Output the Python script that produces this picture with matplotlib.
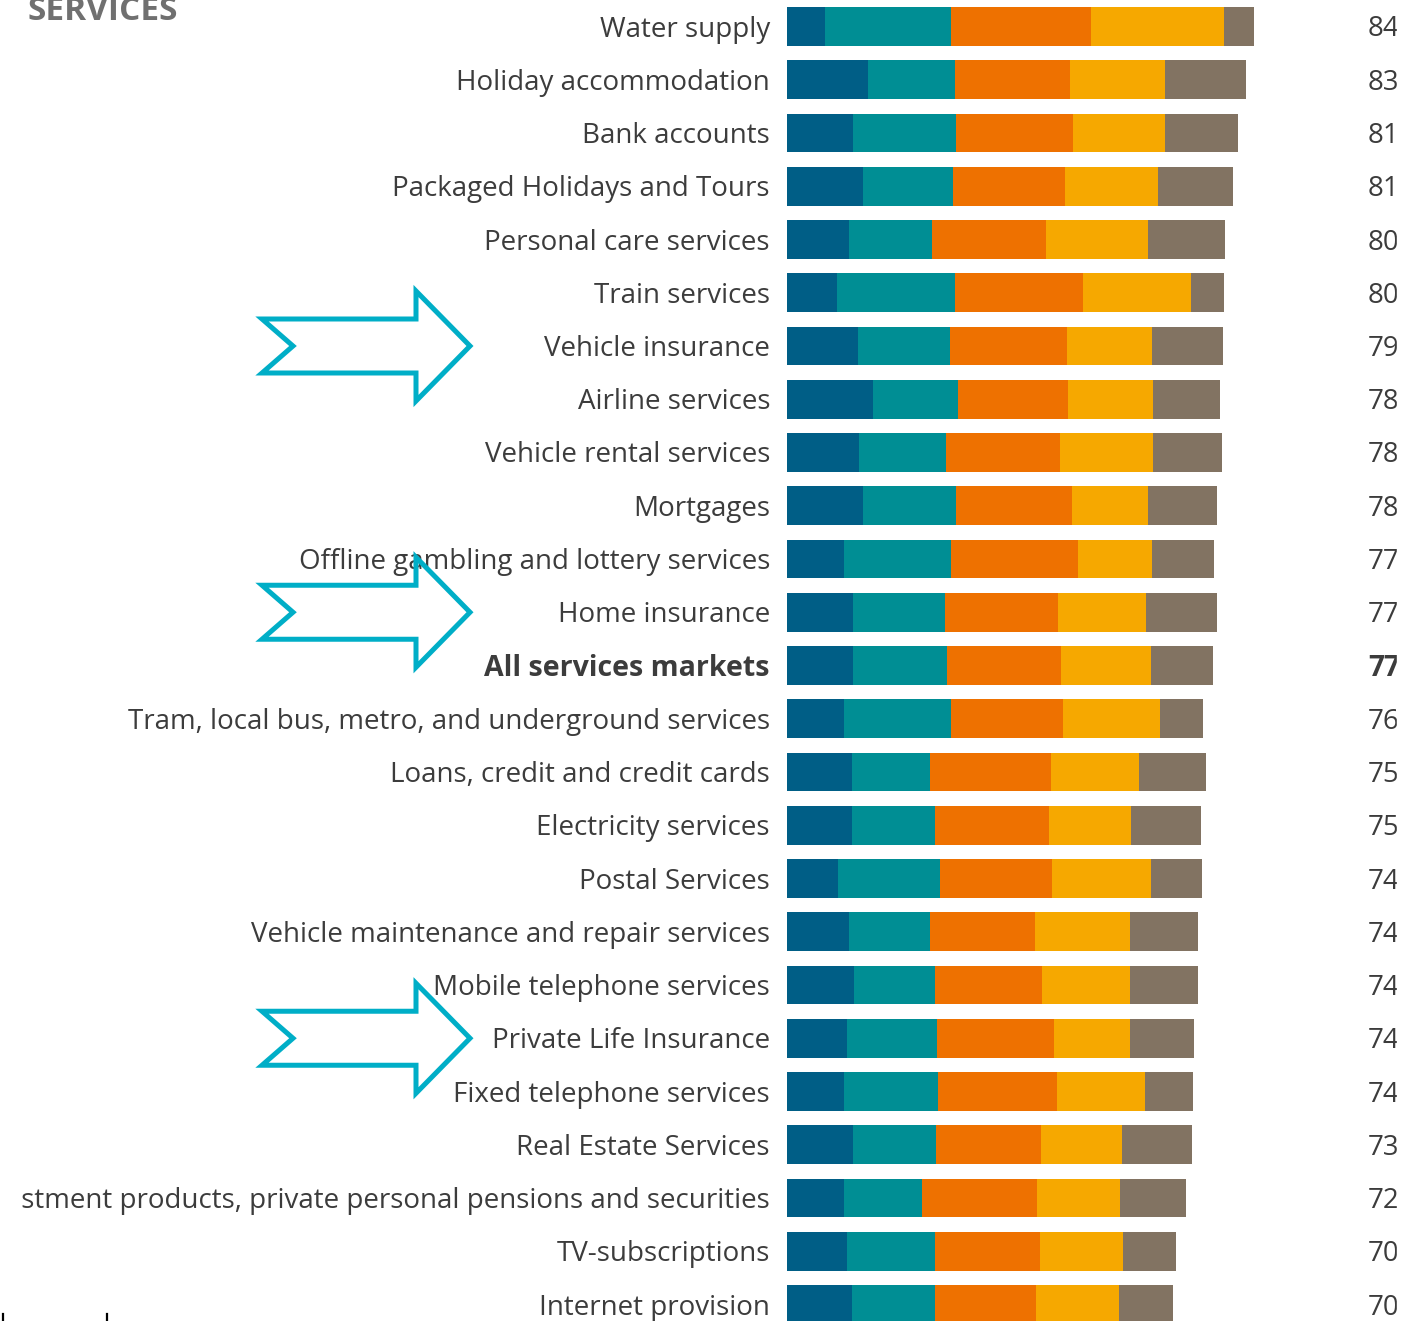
import matplotlib
matplotlib.use("Agg")
import matplotlib.pyplot as plt
import matplotlib.transforms as mtransforms
from matplotlib.patches import Polygon, Rectangle
from matplotlib.lines import Line2D

# services markets, top to bottom
markets = [
    "Water supply", "Holiday accommodation", "Bank accounts",
    "Packaged Holidays and Tours", "Personal care services", "Train services",
    "Vehicle insurance", "Airline services", "Vehicle rental services",
    "Mortgages", "Offline gambling and lottery services", "Home insurance",
    "All services markets",
    "Tram, local bus, metro, and underground services",
    "Loans, credit and credit cards", "Electricity services",
    "Postal Services", "Vehicle maintenance and repair services",
    "Mobile telephone services", "Private Life Insurance",
    "Fixed telephone services", "Real Estate Services",
    "Investment products, private personal pensions and securities",
    "TV-subscriptions", "Internet provision",
]

# five stacked components of the index (left to right)
comp1 = [6.7, 14.5, 11.8, 13.6, 11.2, 9.0, 12.8, 15.4, 13.0, 13.6, 10.3, 11.8, 11.8,
         10.3, 11.6, 11.6, 9.2, 11.2, 12.1, 10.7, 10.3, 11.8, 10.3, 10.7, 11.6]
comp2 = [22.8, 15.7, 18.6, 16.3, 15.0, 21.3, 16.6, 15.4, 15.7, 16.8, 19.2, 16.6, 17.0,
         19.2, 14.1, 15.0, 18.3, 14.6, 14.6, 16.3, 17.0, 15.0, 14.1, 15.9, 15.0]
comp3 = [25.3, 20.8, 21.2, 20.3, 20.6, 23.1, 21.2, 19.9, 20.6, 21.0, 23.1, 20.6, 20.6,
         20.3, 21.9, 20.6, 20.3, 19.0, 19.3, 21.2, 21.5, 19.0, 20.8, 19.0, 18.3]
comp4 = [24.2, 17.2, 16.6, 16.8, 18.3, 19.5, 15.4, 15.4, 16.8, 13.7, 13.4, 15.9, 16.3,
         17.5, 15.9, 15.0, 17.9, 17.2, 15.9, 13.7, 15.9, 14.6, 15.0, 15.0, 15.0]
comp5 = [5.4, 14.8, 13.2, 13.6, 14.1, 6.1, 12.8, 12.1, 12.5, 12.5, 11.2, 12.8, 11.2,
         7.8, 12.1, 12.5, 9.2, 12.3, 12.3, 11.6, 8.7, 12.7, 11.9, 9.6, 9.8]

scores = [84, 83, 81, 81, 80, 80, 79, 78, 78, 78, 77, 77, 77,
          76, 75, 75, 74, 74, 74, 74, 74, 73, 72, 70, 70]

highlighted = ["Vehicle insurance", "Home insurance", "Private Life Insurance"]

colors = ["#005e86", "#008e94", "#ee7100", "#f6a800", "#827362"]
W, H = 1406, 1321

plt.rcParams["font.family"] = ["Open Sans", "DejaVu Sans"]
fig = plt.figure(figsize=(W / 100, H / 100), dpi=100)

# axes placed so one unit is ~5.53 px and rows are ~53.25 px apart
x0 = 787.5
ax = fig.add_axes([x0 / W, 0, (W - x0) / W, 1])
ax.set_xlim(0, (W - x0) / 5.53)
ax.set_ylim((H - 26.5) / 53.25, -26.5 / 53.25)
ax.axis("off")

ypos = list(range(len(markets)))
left = [0] * len(markets)
for vals, c in zip([comp1, comp2, comp3, comp4, comp5], colors):
    ax.barh(ypos, vals, left=left, height=0.73, color=c, linewidth=0)
    left = [l + v for l, v in zip(left, vals)]

trans = mtransforms.blended_transform_factory(fig.transFigure, ax.transData)
trans = mtransforms.offset_copy(trans, fig=fig, y=-3, units="dots")
for y, name, s in zip(ypos, markets, scores):
    bold = name == "All services markets"
    ax.text(770 / W, y, name, transform=trans, ha="right", va="center",
            fontsize=20.5 if bold else 20, color="#3c3c3c",
            fontweight="bold" if bold else "normal", clip_on=False)
    ax.text(1368 / W, y, str(s), transform=trans, ha="left", va="center",
            fontsize=20, color="#3c3c3c", fontweight="bold" if bold else "normal",
            clip_on=False)

fig.text(178 / W, 1 - 20 / H, "SERVICES", ha="right", va="baseline",
         fontsize=24, fontweight="bold", color="#707070")


def px(x, y):
    return (x / W, 1 - y / H)


# outline arrows pointing at the insurance rows
for name in highlighted:
    i = markets.index(name)
    cy = H - ax.transData.transform((0, i))[1]
    pts = [(262, cy - 27), (416, cy - 27), (416, cy - 55), (470, cy),
           (416, cy + 55), (416, cy + 27), (262, cy + 27), (293, cy)]
    fig.patches.append(Polygon([px(*p) for p in pts], closed=True, fill=False,
                               edgecolor="#00aec7", linewidth=3.6,
                               transform=fig.transFigure, zorder=10))

# crop edges left and right
fig.patches.append(Rectangle((0, 0), 19 / W, 1, color="white",
                             transform=fig.transFigure, zorder=11))
fig.patches.append(Rectangle((1397 / W, 0), 9 / W, 1, color="white",
                             transform=fig.transFigure, zorder=11))
for xt in [3, 107]:
    fig.lines.append(Line2D([xt / W, xt / W], [0, 7 / H], color="black",
                            linewidth=1.6, transform=fig.transFigure, zorder=12))

fig.savefig("out.png", dpi=100)
